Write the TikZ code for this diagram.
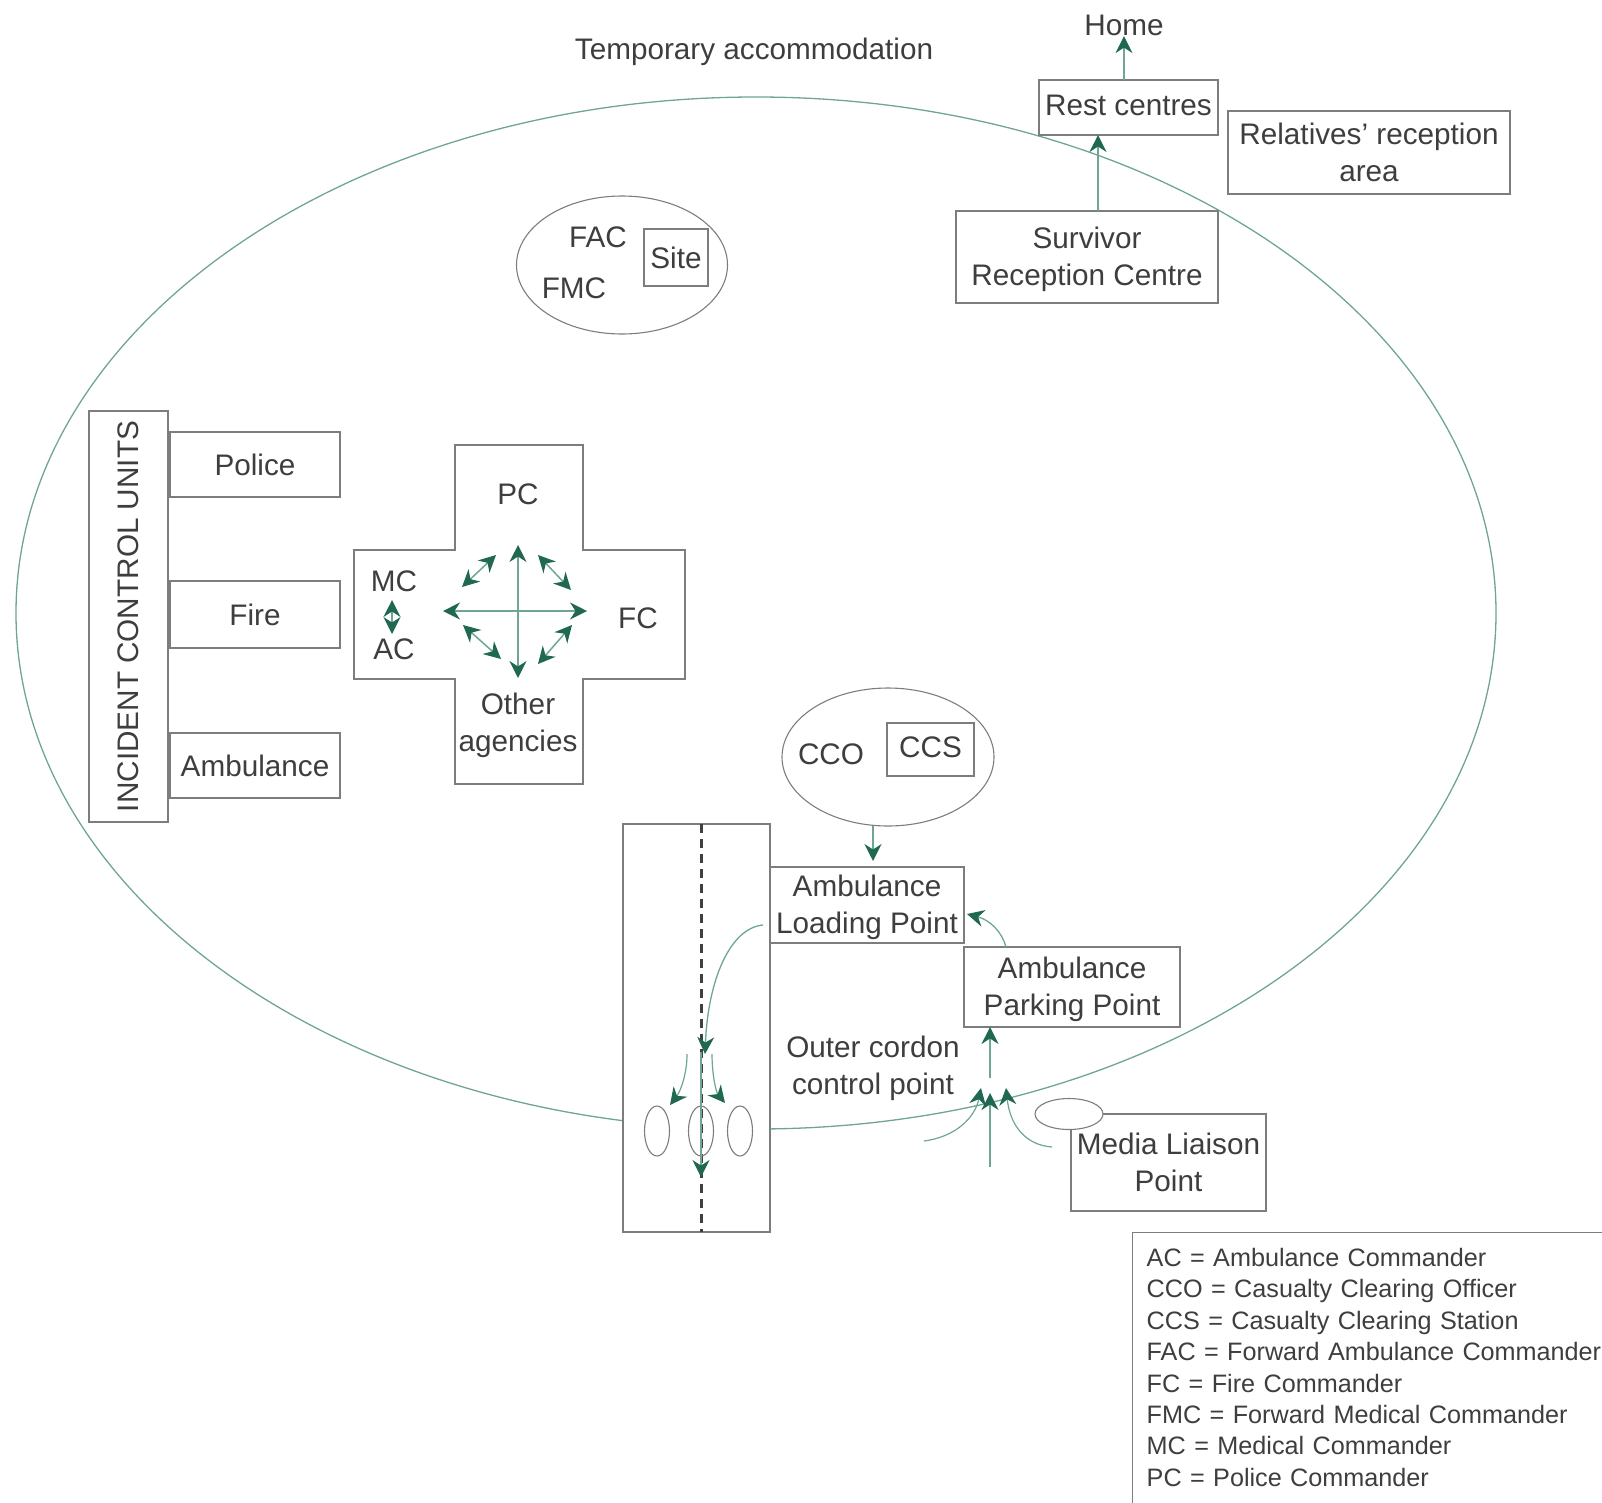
\documentclass[tikz,border=0pt]{standalone}
\usepackage{fontspec}
\setmainfont{Liberation Sans}
\usetikzlibrary{arrows.meta,shapes.geometric}
\definecolor{boxgray}{RGB}{125,125,125}
\definecolor{textgray}{RGB}{62,62,62}
\definecolor{linegreen}{RGB}{110,165,148}
\definecolor{headgreen}{RGB}{32,104,82}
\newcommand{\lowstrut}{\rule{0pt}{26pt}}
\tikzset{every picture/.style={line width=1.5pt},
	label text/.style={text=textgray,inner sep=0pt,align=center,font=\fontsize{29.7}{37}\selectfont},
	boxed/.style={label text,draw=boxgray,fill=white,line width=1.6pt},
	round shape/.style={ellipse,draw=boxgray,inner sep=0pt,line width=1.1pt},
	flow/.style={draw=linegreen,line width=1.7pt,-{Stealth[length=17pt,width=17pt,color=headgreen]}},
	both flow/.style={draw=linegreen,line width=1.5pt,{Stealth[length=17pt,width=17pt,color=headgreen]}-{Stealth[length=17pt,width=17pt,color=headgreen]}}}

\begin{document}
\begin{tikzpicture}[x=1pt,y=1pt,yscale=-1,xscale=1]
	\useasboundingbox (0,0) rectangle (1602,1502);
	\clip (0,0) rectangle (1602,1502);

	%Shape: Ellipse
	\node [ellipse,draw=linegreen,inner sep=0pt,line width=1.3pt,minimum width=1480pt,minimum height=1032pt] (cordon) at (756,613) {};

	% Text Node
	\node [label text] (home) at (1124,25) {Home};
	\node [label text] (tempacc) at (754,52) {Temporary accommodation};

	%Boxes at the top
	\node [boxed,text depth=4pt,minimum width=179pt,minimum height=55pt] (rest) at (1128.5,107.5) {Rest centres};
	\node [boxed,minimum width=282pt,minimum height=83pt] (relatives) at (1369,152.5) {Relatives’ reception\\area};
	\node [boxed,minimum width=262pt,minimum height=92pt] (survivor) at (1087,257) {\lowstrut Survivor\\Reception Centre};

	%Shape: Ellipse
	\node [round shape,minimum width=211pt,minimum height=138pt] (forward) at (622,265) {};
	\node [boxed,minimum width=64pt,minimum height=57pt] (site) at (676,257.5) {Site};
	\node [label text] (fac) at (598,237) {FAC};
	\node [label text] (fmc) at (574,288) {FMC};

	%Control units
	\node [boxed,rotate=90,minimum width=411pt,minimum height=79pt] (units) at (128.5,616.5) {INCIDENT CONTROL UNITS};
	\node [boxed,minimum width=170pt,minimum height=65pt] (police) at (255,464.5) {Police};
	\node [boxed,minimum width=170pt,minimum height=67pt] (fire) at (255,614.5) {Fire};
	\node [boxed,minimum width=170pt,minimum height=65pt] (ambulance) at (255,765.5) {Ambulance};

	%Shape: Cross
	\draw [draw=boxgray,line width=1.6pt] (455,445) -- (583,445) -- (583,550) -- (685,550) -- (685,679) -- (583,679) -- (583,784) -- (455,784) -- (455,679) -- (354,679) -- (354,550) -- (455,550) -- cycle ;
	\node [label text] (pc) at (518,494) {PC};
	\node [label text] (mc) at (394,581) {MC};
	\node [label text] (ac) at (394,649) {AC};
	\node [label text] (fc) at (638,618) {FC};
	\node [label text] (other) at (518,725) {Other\\agencies};

	\coordinate (crossN) at (518,545);
	\coordinate (crossS) at (518,678);
	\coordinate (crossW) at (443,611);
	\coordinate (crossE) at (587,611);
	\draw [both flow] (crossN) -- (crossS);
	\draw [both flow] (crossW) -- (crossE);
	\draw [both flow] (462,587) coordinate (nwA) -- (496,555) coordinate (nwB);
	\draw [both flow] (538,555) coordinate (neA) -- (571,590) coordinate (neB);
	\draw [both flow] (463,625) coordinate (swA) -- (501,659) coordinate (swB);
	\draw [both flow] (538,664) coordinate (seA) -- (572,625) coordinate (seB);
	\draw [both flow] (392,600) coordinate (mcEnd) -- (392,634) coordinate (acEnd);

	%Casualty clearing
	\node [round shape,minimum width=212pt,minimum height=138pt] (clearing) at (888,757) {};
	\node [boxed,text depth=4pt,minimum width=87pt,minimum height=53pt] (ccs) at (930.5,749.5) {CCS};
	\node [label text] (cco) at (831,754) {CCO};

	%Strip with the scene
	\node [boxed,minimum width=147pt,minimum height=408pt] (strip) at (696.5,1028) {};
	\coordinate (dashTop) at (701,824);
	\coordinate (dashEnd) at (701,1232);
	\draw [draw=black!75,dash pattern=on 9pt off 6pt,line width=3pt] (dashTop) -- (dashEnd);
	\node [round shape,minimum width=25pt,minimum height=50pt] (vehicleA) at (657,1131) {};
	\node [round shape,minimum width=25pt,minimum height=50pt] (vehicleB) at (701,1131) {};
	\node [round shape,minimum width=25pt,minimum height=50pt] (vehicleC) at (740,1131) {};

	%Right hand boxes
	\node [boxed,minimum width=194pt,minimum height=76pt] (loading) at (867,905) {\lowstrut Ambulance\\Loading Point};
	\node [boxed,minimum width=216pt,minimum height=80pt] (parking) at (1072,987) {\lowstrut Ambulance\\Parking Point};
	\node [label text] (outer) at (873,1068) {Outer cordon\\control point};
	\node [boxed,minimum width=195pt,minimum height=97pt] (media) at (1168.5,1162.5) {Media Liaison\\Point};
	\node [round shape,fill=white,minimum width=68pt,minimum height=31pt] (mediaoval) at (1069,1114) {};

	%Connectors
	\draw [flow] (1124,80) coordinate (restOut) -- (home.south);
	\draw [flow] (1098,211) coordinate (survOut) -- (1098,135) coordinate (restIn);
	\draw [flow] (873,826) coordinate (clearOut) -- (873,861) coordinate (loadIn);
	\draw [flow,line width=1.3pt] (1006,947) coordinate (parkOut) .. controls (1002,932) and (990,920) .. (967,914) coordinate (loadSide);
	\draw [flow,line width=1.3pt] (763,925) coordinate (loadOut) .. controls (730,928) and (708,980) .. (705,1054) coordinate (stripIn);
	\draw [flow,line width=1.2pt] (687,1054) coordinate (leftA) .. controls (687,1075) and (680,1092) .. (670,1105) coordinate (leftB);
	\draw [flow,line width=1.2pt] (712,1054) coordinate (rightA) .. controls (712,1075) and (716,1092) .. (725,1103) coordinate (rightB);
	\draw [flow,line width=1.2pt] (701,1052) coordinate (downA) -- (701,1177) coordinate (downB);
	\draw [flow] (990,1167) coordinate (upA) -- (990,1093) coordinate (upB);
	\draw [flow] (990,1078) coordinate (upC) -- (990,1027) coordinate (parkIn);
	\draw [flow,line width=1.2pt] (924,1141) coordinate (curveA) .. controls (955,1137) and (975,1118) .. (981,1088) coordinate (curveB);
	\draw [flow,line width=1.2pt] (1052,1147) coordinate (curveC) .. controls (1025,1145) and (1010,1125) .. (1006,1088) coordinate (curveD);

	% Text Node
	\node [draw=boxgray,line width=1.4pt,anchor=north west,text=textgray,inner xsep=14pt,inner ysep=15.5pt,text width=600pt,align=left,font=\fontsize{25.2}{31.4}\selectfont] (legend) at (1132,1232) {AC = Ambulance Commander\\CCO = Casualty Clearing Officer\\CCS = Casualty Clearing Station\\FAC = Forward Ambulance Commander\\FC = Fire Commander\\FMC = Forward Medical Commander\\MC = Medical Commander\\PC = Police Commander\rule[-30pt]{0pt}{0pt}};
\end{tikzpicture}
\end{document}
